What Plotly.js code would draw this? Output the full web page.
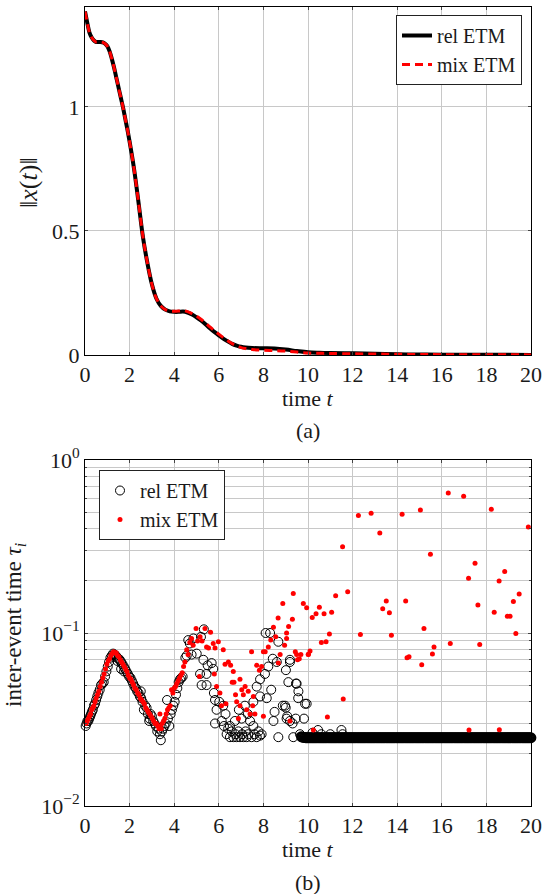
<!DOCTYPE html>
<html>
<head>
<meta charset="utf-8">
<script src="https://cdn.plot.ly/plotly-3.0.1.min.js"></script>
<style>html,body{margin:0;padding:0;background:#fff;}#chart{width:542px;height:894px;}</style>
</head>
<body>
<div id="chart"></div>
<script>
// ---------- (a) state norm ----------
const normT = [0,0.1,0.2,0.3,0.4,0.5,0.6,0.7,0.8,0.9,1.0,1.1,1.2,1.3,1.4,1.5,1.6,1.7,1.8,1.9,2.0,2.2,2.4,2.6,2.8,3.0,3.2,3.4,3.6,3.8,4.0,4.2,4.4,4.6,4.8,5.0,5.2,5.4,5.6,5.8,6.0,6.2,6.4,6.6,6.8,7.0,7.2,7.5,8.0,8.5,9.0,9.5,10,10.5,11,12,13,14,15,16,18,20];
const relNorm = [1.385,1.34,1.30,1.28,1.268,1.262,1.262,1.262,1.26,1.255,1.245,1.225,1.195,1.16,1.12,1.08,1.04,1.0,0.955,0.91,0.86,0.75,0.615,0.475,0.37,0.285,0.228,0.198,0.183,0.176,0.174,0.174,0.175,0.171,0.163,0.152,0.139,0.124,0.108,0.093,0.079,0.066,0.055,0.045,0.038,0.033,0.030,0.028,0.027,0.026,0.022,0.016,0.011,0.009,0.008,0.007,0.005,0.003,0.002,0.0015,0.001,0.0005];
const mixNorm = [1.385,1.34,1.30,1.28,1.268,1.262,1.262,1.262,1.26,1.255,1.245,1.225,1.195,1.16,1.12,1.08,1.04,1.0,0.955,0.91,0.86,0.75,0.615,0.475,0.37,0.285,0.228,0.198,0.183,0.177,0.176,0.177,0.179,0.175,0.167,0.157,0.144,0.129,0.113,0.098,0.084,0.070,0.057,0.046,0.037,0.030,0.026,0.022,0.019,0.018,0.016,0.012,0.008,0.007,0.006,0.005,0.004,0.003,0.002,0.0015,0.001,0.0005];

// ---------- (b) inter-event times ----------
const relT = [0.03,0.07,0.11,0.15,0.19,0.23,0.27,0.31,0.35,0.40,0.45,0.50,0.55,0.60,0.66,0.72,0.78,0.84,0.90,0.96,1.02,1.08,1.14,1.20,1.26,1.32,1.38,1.44,1.50,1.56,1.62,1.68,1.74,1.80,1.86,1.92,1.98,2.04,2.10,2.16,2.22,2.28,2.34,2.40,2.46,2.52,2.58,2.64,2.70,2.76,2.82,2.88,2.94,3.00,3.06,3.12,3.18,3.24,3.30,3.36,3.40,3.45,3.50,3.56,3.62,3.68,3.72,3.78,3.84,3.90,3.96,4.02,4.08,4.14,4.20,4.26,4.32,4.38,
1.45,1.62,1.75,2.50,2.90,
4.50,4.56,4.63,4.70,4.78,4.86,5.01,5.16,5.20,5.31,5.33,5.23,5.45,5.45,5.50,5.68,5.75,5.78,5.83,5.83,5.90,6.02,6.13,6.20,6.23,6.30,6.35,6.42,6.50,6.50,6.58,6.65,6.72,6.75,6.80,6.88,6.95,7.02,7.05,7.10,7.17,7.20,7.25,7.32,7.40,7.47,7.55,7.60,7.70,7.70,7.78,7.85,7.85,7.85,7.92,8.07,8.10,8.22,8.30,8.42,8.45,8.60,8.67,8.67,8.87,8.97,9.00,9.01,9.04,9.07,9.12,9.19,9.19,9.19,9.31,9.34,9.45,9.46,9.49,9.56,9.57,9.64,9.82,9.87,9.94,
6.90,7.30,7.55,8.15,8.35,8.50,
10.2,10.45,10.6,11.0,11.5,11.55];
const relTau = [0.029,0.030,0.031,0.031,0.032,0.033,0.034,0.035,0.036,0.038,0.039,0.041,0.043,0.045,0.047,0.050,0.051,0.052,0.056,0.060,0.064,0.068,0.072,0.074,0.076,0.075,0.074,0.072,0.071,0.070,0.068,0.066,0.064,0.062,0.060,0.058,0.056,0.055,0.053,0.051,0.049,0.048,0.046,0.045,0.043,0.042,0.040,0.036,0.038,0.037,0.034,0.031,0.034,0.033,0.031,0.030,0.029,0.027,0.028,0.026,0.024,0.027,0.028,0.029,0.030,0.041,0.032,0.029,0.034,0.036,0.038,0.040,0.044,0.048,0.052,0.054,0.055,0.056,
0.069,0.062,0.060,0.046,0.032,
0.072,0.074,0.091,0.087,0.075,0.093,0.076,0.058,0.095,0.070,0.105,0.050,0.058,0.050,0.065,0.067,0.062,0.045,0.041,0.030,0.036,0.040,0.031,0.038,0.029,0.034,0.026,0.028,0.025,0.029,0.027,0.025,0.031,0.026,0.025,0.027,0.025,0.032,0.026,0.025,0.038,0.027,0.025,0.026,0.031,0.025,0.029,0.026,0.049,0.025,0.027,0.043,0.054,0.0255,0.026,0.058,0.100,0.064,0.100,0.071,0.031,0.068,0.089,0.025,0.038,0.038,0.037,0.061,0.032,0.033,0.052,0.031,0.070,0.068,0.030,0.025,0.032,0.051,0.051,0.042,0.046,0.026,0.032,0.039,0.039,
0.036,0.034,0.040,0.042,0.047,0.035,
0.0265,0.0275,0.026,0.026,0.0275,0.026];

const relTailT = [9.7,9.75,9.8,9.85,9.9,9.95,
10,10.05,10.1,10.15,10.2,10.25,10.3,10.35,10.4,10.45,10.5,10.55,10.6,10.65,10.7,10.75,10.8,10.85,10.9,10.95,
11,11.05,11.1,11.15,11.2,11.25,11.3,11.35,11.4,11.45,11.5,11.55,11.6,11.65,11.7,11.75,11.8,11.85,11.9,11.95,
12,12.05,12.1,12.15,12.2,12.25,12.3,12.35,12.4,12.45,12.5,12.55,12.6,12.65,12.7,12.75,12.8,12.85,12.9,12.95,
13,13.05,13.1,13.15,13.2,13.25,13.3,13.35,13.4,13.45,13.5,13.55,13.6,13.65,13.7,13.75,13.8,13.85,13.9,13.95,
14,14.05,14.1,14.15,14.2,14.25,14.3,14.35,14.4,14.45,14.5,14.55,14.6,14.65,14.7,14.75,14.8,14.85,14.9,14.95,
15,15.05,15.1,15.15,15.2,15.25,15.3,15.35,15.4,15.45,15.5,15.55,15.6,15.65,15.7,15.75,15.8,15.85,15.9,15.95,
16,16.05,16.1,16.15,16.2,16.25,16.3,16.35,16.4,16.45,16.5,16.55,16.6,16.65,16.7,16.75,16.8,16.85,16.9,16.95,
17,17.05,17.1,17.15,17.2,17.25,17.3,17.35,17.4,17.45,17.5,17.55,17.6,17.65,17.7,17.75,17.8,17.85,17.9,17.95,
18,18.05,18.1,18.15,18.2,18.25,18.3,18.35,18.4,18.45,18.5,18.55,18.6,18.65,18.7,18.75,18.8,18.85,18.9,18.95,
19,19.05,19.1,19.15,19.2,19.25,19.3,19.35,19.4,19.45,19.5,19.55,19.6,19.65,19.7,19.75,19.8,19.85,19.9,19.95,
20];
const relTailTau = [0.0252,0.025,0.0249,0.0249,0.0248,0.0248,
0.0248,0.0248,0.0248,0.0248,0.0248,0.0248,0.0248,0.0248,0.0248,0.0248,0.0248,0.0248,0.0248,0.0248,0.0248,0.0248,0.0248,0.0248,0.0248,0.0248,
0.0248,0.0248,0.0248,0.0248,0.0248,0.0248,0.0248,0.0248,0.0248,0.0248,0.0248,0.0248,0.0248,0.0248,0.0248,0.0248,0.0248,0.0248,0.0248,0.0248,
0.0248,0.0248,0.0248,0.0248,0.0248,0.0248,0.0248,0.0248,0.0248,0.0248,0.0248,0.0248,0.0248,0.0248,0.0248,0.0248,0.0248,0.0248,0.0248,0.0248,
0.0248,0.0248,0.0248,0.0248,0.0248,0.0248,0.0248,0.0248,0.0248,0.0248,0.0248,0.0248,0.0248,0.0248,0.0248,0.0248,0.0248,0.0248,0.0248,0.0248,
0.0248,0.0248,0.0248,0.0248,0.0248,0.0248,0.0248,0.0248,0.0248,0.0248,0.0248,0.0248,0.0248,0.0248,0.0248,0.0248,0.0248,0.0248,0.0248,0.0248,
0.0248,0.0248,0.0248,0.0248,0.0248,0.0248,0.0248,0.0248,0.0248,0.0248,0.0248,0.0248,0.0248,0.0248,0.0248,0.0248,0.0248,0.0248,0.0248,0.0248,
0.0248,0.0248,0.0248,0.0248,0.0248,0.0248,0.0248,0.0248,0.0248,0.0248,0.0248,0.0248,0.0248,0.0248,0.0248,0.0248,0.0248,0.0248,0.0248,0.0248,
0.0248,0.0248,0.0248,0.0248,0.0248,0.0248,0.0248,0.0248,0.0248,0.0248,0.0248,0.0248,0.0248,0.0248,0.0248,0.0248,0.0248,0.0248,0.0248,0.0248,
0.0248,0.0248,0.0248,0.0248,0.0248,0.0248,0.0248,0.0248,0.0248,0.0248,0.0248,0.0248,0.0248,0.0248,0.0248,0.0248,0.0248,0.0248,0.0248,0.0248,
0.0248,0.0248,0.0248,0.0248,0.0248,0.0248,0.0248,0.0248,0.0248,0.0248,0.0248,0.0248,0.0248,0.0248,0.0248,0.0248,0.0248,0.0248,0.0248,0.0248,
0.0248];

const mixT = [0.05,0.10,0.15,0.20,0.25,0.30,0.35,0.40,0.45,0.50,0.56,0.62,0.68,0.74,0.80,0.86,0.92,0.98,1.04,1.10,1.16,1.22,1.28,1.34,1.40,1.46,1.52,1.58,1.64,1.70,1.76,1.82,1.88,1.94,2.00,2.06,2.12,2.18,2.24,2.30,2.36,2.42,2.48,2.54,2.60,2.66,2.72,2.78,2.84,2.90,2.96,3.02,3.08,3.14,3.20,3.26,3.32,3.36,3.38,3.42,3.46,3.52,3.58,3.64,3.70,3.76,3.82,3.88,3.94,4.00,4.06,4.12,4.18,4.24,4.30,4.36,4.42,
4.48,4.56,4.62,4.70,4.78,4.85,4.98,5.05,5.13,5.16,5.25,5.38,5.45,5.54,5.63,5.75,5.80,5.83,5.90,5.98,6.05,6.12,6.20,6.28,6.32,6.43,6.53,6.60,6.65,6.68,6.75,6.80,6.88,6.95,6.95,7.03,7.10,7.18,7.25,7.32,7.40,7.47,7.52,7.55,7.62,7.70,7.82,7.92,8.00,8.00,8.08,8.22,8.33,8.45,8.55,8.66,8.67,8.75,8.87,8.95,9.04,9.04,9.13,9.19,9.30,9.34,9.43,9.49,9.53,9.61,9.68,9.79,9.94,
10.01,10.02,10.09,10.19,10.24,10.36,10.51,10.6,10.72,10.81,10.87,10.96,11.06,11.24,11.55,11.58,11.78,12.26,12.35,12.83,13.22,13.35,13.51,13.65,13.74,14.22,14.38,14.44,14.53,15.04,15.10,15.20,15.49,15.58,15.65,16.29,16.38,16.98,17.20,17.22,17.49,17.62,17.70,18.22,18.35,18.57,18.58,18.82,18.94,19.06,19.21,19.32,19.47,19.88];
const mixTau = [0.030,0.031,0.032,0.033,0.034,0.036,0.037,0.038,0.040,0.042,0.044,0.046,0.049,0.052,0.055,0.058,0.062,0.066,0.069,0.071,0.074,0.076,0.078,0.077,0.077,0.074,0.073,0.070,0.068,0.066,0.064,0.062,0.060,0.057,0.055,0.054,0.052,0.050,0.048,0.047,0.045,0.044,0.042,0.041,0.040,0.039,0.037,0.036,0.035,0.034,0.033,0.032,0.031,0.030,0.030,0.029,0.028,0.034,0.029,0.028,0.030,0.031,0.032,0.034,0.036,0.037,0.038,0.047,0.045,0.048,0.049,0.051,0.053,0.055,0.057,0.059,0.064,
0.068,0.080,0.075,0.088,0.093,0.085,0.106,0.090,0.056,0.095,0.090,0.106,0.083,0.082,0.101,0.087,0.058,0.082,0.049,0.089,0.045,0.038,0.080,0.066,0.039,0.068,0.065,0.052,0.060,0.052,0.044,0.040,0.032,0.054,0.038,0.047,0.044,0.049,0.036,0.046,0.034,0.078,0.038,0.043,0.034,0.065,0.061,0.064,0.078,0.033,0.078,0.083,0.091,0.108,0.095,0.122,0.067,0.075,0.148,0.085,0.093,0.100,0.109,0.031,0.120,0.169,0.078,0.075,0.070,0.071,0.075,0.148,0.140,
0.075,0.0753,0.0787,0.123,0.0275,0.129,0.141,0.088,0.129,0.089,0.0327,0.0987,0.132,0.164,0.315,0.0416,0.173,0.477,0.098,0.492,0.378,0.138,0.153,0.131,0.097,0.485,0.153,0.072,0.073,0.514,0.0656,0.106,0.285,0.0756,0.083,0.645,0.087,0.617,0.207,0.0275,0.253,0.145,0.0857,0.519,0.132,0.200,0.0276,0.227,0.125,0.125,0.152,0.0995,0.168,0.41];

const xTickVals = [0,2,4,6,8,10,12,14,16,18,20];
const normTickVals = [0,0.5,1];
const normTickText = ['0','0.5','1'];
const tauTickVals = [0.01,0.1,1];
const tauTickText = ['10<sup>−2</sup>','10<sup>−1</sup>','10<sup>0</sup>'];
const tauMinorVals = [0.02,0.03,0.04,0.05,0.06,0.07,0.08,0.09,0.2,0.3,0.4,0.5,0.6,0.7,0.8,0.9];

const FONT = '"Liberation Serif", "DejaVu Serif", serif';
const FS = 22;
const LFS = 20;
const W = 542, H = 894;
const px = v => v / W, py = v => 1 - v / H;
const GRID = '#c8c8c8';
const TXT = '#1a1a1a';

const traces = [
  {x: normT, y: relNorm, type: 'scatter', mode: 'lines', name: 'rel ETM',
   line: {color: '#000', width: 4, shape: 'spline'}, xaxis: 'x', yaxis: 'y', legend: 'legend'},
  {x: normT, y: mixNorm, type: 'scatter', mode: 'lines', name: 'mix ETM',
   line: {color: '#ff0000', width: 3, dash: '8px,5px', shape: 'spline'}, xaxis: 'x', yaxis: 'y', legend: 'legend'},
  {x: relT, y: relTau, type: 'scatter', mode: 'markers', name: 'rel ETM',
   marker: {symbol: 'circle-open', size: 9, color: '#000', line: {width: 1, color: '#000'}},
   cliponaxis: false, xaxis: 'x2', yaxis: 'y2', legend: 'legend2'},
  {x: relTailT, y: relTailTau, type: 'scatter', mode: 'markers', name: 'rel ETM', showlegend: false,
   marker: {symbol: 'circle-open', size: 9, color: '#000', line: {width: 1.8, color: '#000'}},
   cliponaxis: false, xaxis: 'x2', yaxis: 'y2', legend: 'legend2'},
  {x: mixT, y: mixTau, type: 'scatter', mode: 'markers', name: 'mix ETM',
   marker: {symbol: 'circle', size: 5, color: '#ff0000'},
   cliponaxis: false, xaxis: 'x2', yaxis: 'y2', legend: 'legend2'}
];

const axBase = {
  showline: true, linecolor: '#000', linewidth: 1, mirror: 'ticks',
  ticks: 'inside', ticklen: 3, tickcolor: '#444',
  showgrid: true, gridcolor: GRID, gridwidth: 1, zeroline: false,
  tickfont: {family: FONT, size: FS, color: TXT}
};

const layout = {
  width: W, height: H,
  margin: {l: 0, r: 0, t: 0, b: 0},
  paper_bgcolor: '#fff', plot_bgcolor: '#fff',
  font: {family: FONT, size: FS, color: TXT},
  xaxis: Object.assign({}, axBase, {domain: [px(85), px(531)], range: [0, 20], tickmode: 'array', tickvals: xTickVals, anchor: 'y'}),
  yaxis: Object.assign({}, axBase, {domain: [py(355), py(7)], range: [0, 1.403], tickmode: 'array', tickvals: normTickVals, ticktext: normTickText, anchor: 'x'}),
  xaxis2: Object.assign({}, axBase, {domain: [px(85), px(531)], range: [0, 20], tickmode: 'array', tickvals: xTickVals, anchor: 'y2'}),
  yaxis2: Object.assign({}, axBase, {domain: [py(806), py(460)], type: 'log', range: [-2, 0], tickmode: 'array', tickvals: tauTickVals, ticktext: tauTickText, anchor: 'x2',
    minor: {tickmode: 'array', tickvals: tauMinorVals, showgrid: true, gridcolor: GRID, gridwidth: 1, ticks: 'inside', ticklen: 2, tickcolor: '#444'}}),
  showlegend: true,
  legend: {x: px(522), xanchor: 'right', y: py(15), yanchor: 'top', bordercolor: '#222', borderwidth: 1, bgcolor: '#fff',
    font: {family: FONT, size: LFS, color: TXT}, tracegroupgap: 0},
  legend2: {x: px(99), xanchor: 'left', y: py(470), yanchor: 'top', bordercolor: '#222', borderwidth: 1, bgcolor: '#fff',
    font: {family: FONT, size: LFS, color: TXT}, tracegroupgap: 0, itemwidth: 30},
  annotations: [
    {text: '‖<i>x</i>(<i>t</i>)‖', xref: 'paper', yref: 'paper', x: px(29), y: py(183), textangle: -90, showarrow: false, xanchor: 'center', yanchor: 'middle', font: {family: FONT, size: 26, color: TXT}},
    {text: 'time <i>t</i>', xref: 'paper', yref: 'paper', x: px(308), y: py(398), showarrow: false, xanchor: 'center', yanchor: 'middle', font: {family: FONT, size: FS, color: TXT}},
    {text: '(a)', xref: 'paper', yref: 'paper', x: px(308), y: py(431), showarrow: false, xanchor: 'center', yanchor: 'middle', font: {family: FONT, size: FS, color: TXT}},
    {text: 'inter-event time <i>τ<sub>i</sub></i>', xref: 'paper', yref: 'paper', x: px(15), y: py(625), textangle: -90, showarrow: false, xanchor: 'center', yanchor: 'middle', font: {family: FONT, size: 23, color: TXT}},
    {text: 'time <i>t</i>', xref: 'paper', yref: 'paper', x: px(308), y: py(849), showarrow: false, xanchor: 'center', yanchor: 'middle', font: {family: FONT, size: FS, color: TXT}},
    {text: '(b)', xref: 'paper', yref: 'paper', x: px(308), y: py(882), showarrow: false, xanchor: 'center', yanchor: 'middle', font: {family: FONT, size: FS, color: TXT}}
  ]
};

Plotly.newPlot('chart', traces, layout, {displayModeBar: false, staticPlot: true});
</script>
</body>
</html>
